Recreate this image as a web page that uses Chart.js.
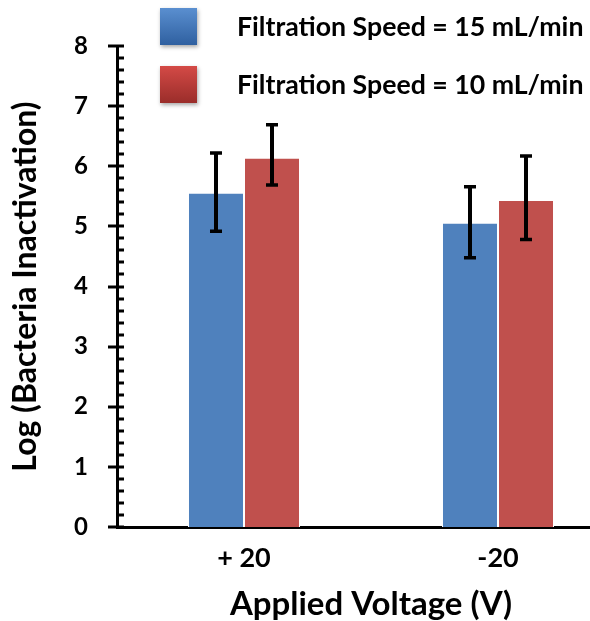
<!DOCTYPE html>
<html>
<head>
<meta charset="utf-8">
<script src="https://cdn.jsdelivr.net/npm/chart.js@4.4.0/dist/chart.umd.min.js"></script>
<style>
  body { margin: 0; overflow: hidden; background: #fff; }
  #wrap { width: 632px; height: 621px; }
</style>
</head>
<body>
<div id="wrap"><canvas id="grafico"></canvas></div>
<script>
// =============== DATA ===============
const categories = ['+ 20', '-20'];
const seriesLabels = ['Filtration Speed = 15 mL/min', 'Filtration Speed = 10 mL/min'];
const speed15 = [5.56, 5.06];
const speed10 = [6.14, 5.44];
const err15Low = [4.92, 4.48];
const err15High = [6.22, 5.66];
const err10Low = [5.69, 4.78];
const err10High = [6.69, 6.17];
const yTicks = [0, 1, 2, 3, 4, 5, 6, 7, 8];

const blue = '#4f81bd';
const red = '#c0504d';
const FONT = 'Lato, "Open Sans", sans-serif';

// error bars drawn over the bars
const errorBars = {
    id: 'errorBars',
    afterDatasetsDraw(chart) {
        const ctx = chart.ctx;
        const y = chart.scales.y;
        const ranges = [[err15Low, err15High], [err10Low, err10High]];
        ctx.save();
        ctx.strokeStyle = '#000';
        ctx.lineCap = 'butt';
        chart.data.datasets.forEach((ds, di) => {
            chart.getDatasetMeta(di).data.forEach((bar, i) => {
                const top = y.getPixelForValue(ranges[di][1][i]);
                const bot = y.getPixelForValue(ranges[di][0][i]);
                ctx.lineWidth = 4;
                ctx.beginPath();
                ctx.moveTo(bar.x, top);
                ctx.lineTo(bar.x, bot);
                ctx.stroke();
                ctx.lineWidth = 3.5;
                ctx.beginPath();
                ctx.moveTo(bar.x - 6, top); ctx.lineTo(bar.x + 6, top);
                ctx.moveTo(bar.x - 6, bot); ctx.lineTo(bar.x + 6, bot);
                ctx.stroke();
            });
        });
        ctx.restore();
    }
};

// y axis with major (crossing) and minor (inside) ticks
const axisTicks = {
    id: 'axisTicks',
    afterDraw(chart) {
        const ctx = chart.ctx;
        const y = chart.scales.y;
        const x0 = chart.chartArea.left;
        ctx.save();
        ctx.strokeStyle = '#000';
        ctx.lineWidth = 3;
        y.ticks.forEach(t => {
            const py = Math.round(y.getPixelForValue(t.value));
            const major = Math.abs(t.value - Math.round(t.value)) < 1e-6;
            ctx.beginPath();
            ctx.moveTo(major ? x0 - 9 : x0, py);
            ctx.lineTo(x0 + 7, py);
            ctx.stroke();
        });
        ctx.restore();
    }
};

// legend in the top right
const legendBoxes = {
    id: 'legendBoxes',
    afterDraw(chart) {
        const ctx = chart.ctx;
        const grads = [['#5a8fd0', '#2f60a0'], ['#d44a46', '#9a2d2a']];
        ctx.save();
        chart.data.datasets.forEach((ds, i) => {
            const bx = 160, by = 8 + i * 58, s = 37;
            ctx.shadowColor = 'rgba(0,0,0,0.35)';
            ctx.shadowBlur = 4;
            ctx.shadowOffsetX = 1;
            ctx.shadowOffsetY = 2;
            const g = ctx.createLinearGradient(0, by, 0, by + s);
            g.addColorStop(0, grads[i][0]);
            g.addColorStop(1, grads[i][1]);
            ctx.fillStyle = g;
            ctx.fillRect(bx, by, s, s);
            ctx.shadowColor = 'transparent';
            ctx.fillStyle = '#000';
            ctx.font = 'bold 26.7px ' + FONT;
            ctx.textBaseline = 'middle';
            ctx.textAlign = 'left';
            ctx.fillText(ds.label, 237, by + s / 2 + 1);
        });
        ctx.restore();
    }
};

const chart = new Chart(document.getElementById('grafico'), {
    type: 'bar',
    data: {
        labels: categories,
        datasets: [
            { label: seriesLabels[0], data: speed15, backgroundColor: blue, borderColor: '#fff', borderWidth: 1 },
            { label: seriesLabels[1], data: speed10, backgroundColor: red, borderColor: '#fff', borderWidth: 1 }
        ]
    },
    options: {
        responsive: true,
        maintainAspectRatio: false,
        animation: false,
        categoryPercentage: 0.441,
        barPercentage: 1.0,
        layout: { padding: { top: 46, right: 7, left: 0, bottom: 0 } },
        plugins: { legend: { display: false }, tooltip: { enabled: false } },
        scales: {
            x: {
                grid: { display: false, drawTicks: false },
                border: { color: '#000', width: 3 },
                ticks: { color: '#000', font: { family: FONT, size: 27, weight: 'bold' }, padding: 15 },
                title: { display: true, text: 'Applied Voltage (V)', color: '#000',
                         font: { family: FONT, size: 33, weight: 'bold', lineHeight: 1 }, padding: { top: 0, bottom: 0 } },
                afterFit(scale) { scale.height = 94; }
            },
            y: {
                min: yTicks[0],
                max: yTicks[yTicks.length - 1],
                grid: { display: false, drawTicks: false },
                border: { color: '#000', width: 3 },
                ticks: {
                    stepSize: 0.2,
                    autoSkip: false,
                    color: '#000',
                    padding: 29,
                    font: { family: FONT, size: 24, weight: 'bold' },
                    callback: v => yTicks.find(t => Math.abs(t - v) < 1e-6) !== undefined ? Math.round(v) : ''
                },
                title: { display: true, text: 'Log (Bacteria Inactivation)', color: '#000',
                         font: { family: FONT, size: 32, weight: 'bold' }, padding: { top: 6, bottom: 0 } },
                afterFit(scale) { scale.width = 117; }
            }
        }
    },
    plugins: [errorBars, axisTicks, legendBoxes]
});
</script>
</body>
</html>
